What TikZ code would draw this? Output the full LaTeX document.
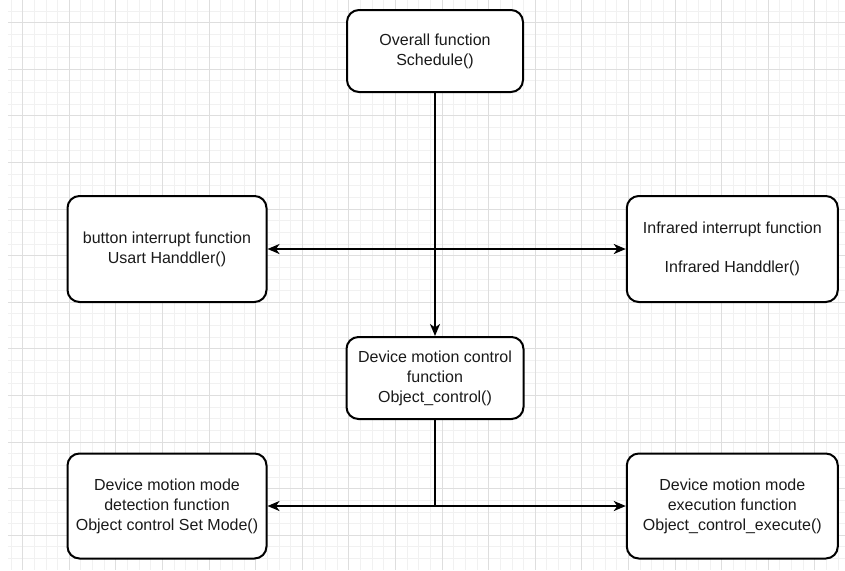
\documentclass[tikz,border=0pt]{standalone}
\usepackage{fontspec}
\setmainfont{Liberation Sans}
\usetikzlibrary{arrows.meta}
\definecolor{gridminor}{HTML}{F1F1F1}
\definecolor{gridmajor}{HTML}{DEDEDE}
\definecolor{txt}{HTML}{1A1A1A}
\tikzset{
  box/.style={draw=black, line width=2pt, rounded corners=12pt, fill=white,
    align=center, inner sep=0pt, text=txt,
    font=\fontsize{16}{20}\selectfont},
  conn/.style={line width=2.2pt, draw=black},
  tip/.style={-{Stealth[length=12pt,width=10pt,inset=3.5pt]}},
  dtip/.style={{Stealth[length=12pt,width=10pt,inset=3.5pt]}-{Stealth[length=12pt,width=10pt,inset=3.5pt]}},
  gminor/.style={draw=gridminor, line width=1pt},
  gmajor/.style={draw=gridmajor, line width=1pt}
}
\begin{document}
\begin{tikzpicture}[x=1pt,y=-1pt]
\useasboundingbox (0,0) rectangle (845,570);
\fill[white] (0,0) rectangle (845,570);
\begin{scope}
\clip (8,0) rectangle (845,569);
\foreach \i in {-1,...,72} {
  \pgfmathtruncatemacro{\m}{mod(\i+4,4)}
  \ifnum\m=0\relax
  \else
    \draw[gminor] ({22.7+\i*11.65},0) -- ({22.7+\i*11.65},570);
  \fi
}
\foreach \j in {-2,...,48} {
  \pgfmathtruncatemacro{\m}{mod(\j+8,4)}
  \ifnum\m=0\relax
  \else
    \draw[gminor] (0,{22.7+\j*11.65}) -- (845,{22.7+\j*11.65});
  \fi
}
\foreach \i in {0,...,18} {
  \draw[gmajor] ({22.7+\i*46.6},0) -- ({22.7+\i*46.6},570);
}
\foreach \j in {0,...,12} {
  \draw[gmajor] (0,{22.7+\j*46.6}) -- (845,{22.7+\j*46.6});
}
\end{scope}

\node[box, minimum width=176pt, minimum height=82pt] (top) at (435,51)
  {Overall function\\Schedule()};
\node[box, minimum width=199pt, minimum height=106pt] (btn) at (167,249)
  {button interrupt function\\Usart Handdler()};
\node[box, minimum width=211pt, minimum height=106pt] (ir) at (732.3,249)
  {Infrared interrupt function\\[19pt]Infrared Handdler()};
\node[box, minimum width=177pt, minimum height=82pt] (ctl) at (435,378)
  {Device motion control\\function\\Object\_control()};
\node[box, minimum width=199pt, minimum height=105pt] (det) at (167,506)
  {Device motion mode\\detection function\\Object control Set Mode()};
\node[box, minimum width=211pt, minimum height=105pt] (exe) at (732.3,506)
  {Device motion mode\\execution function\\Object\_control\_execute()};

\coordinate (j) at (ctl.south |- det.east);
\draw[conn, tip] (top) -- (ctl);
\draw[conn, dtip] (btn) -- (ir);
\draw[conn] (ctl) -- (j);
\draw[conn, dtip] (det) -- (exe);
\end{tikzpicture}
\end{document}
